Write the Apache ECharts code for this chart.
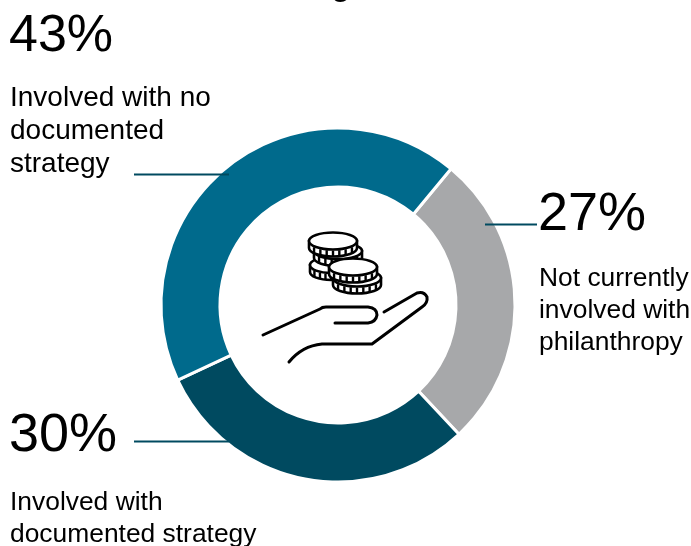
<!DOCTYPE html>
<html>
<head>
<meta charset="utf-8">
<style>html,body{margin:0;padding:0;background:#fff}#chart{width:691px;height:546px}</style>
<script src="https://cdn.jsdelivr.net/npm/echarts@6/dist/echarts.min.js"></script>
</head>
<body>
<div id="chart"></div>
<script>
// Philanthropy involvement shares, clockwise from the upper-right boundary
const categories = ['Not currently\ninvolved with\nphilanthropy', 'Involved with\ndocumented strategy', 'Involved with no\ndocumented\nstrategy'];
const shares = [27, 30, 43];
const sliceColors = ['#a7a8aa', '#004a60', '#006a8c'];
const titleText = 'management';

const chart = echarts.init(document.getElementById('chart'), null, { renderer: 'canvas' });
const FONT = '"Liberation Sans", Arial, sans-serif';
const INK = '#000';

// Closed elliptical outline expressed as a path
const ellipsePath = (cx, cy, rx, ry) =>
  `M${cx - rx} ${cy}A${rx} ${ry} 0 1 1 ${cx + rx} ${cy}A${rx} ${ry} 0 1 1 ${cx - rx} ${cy}Z`;

// Short ticks along the front edge of a coin's band
function coinRidges(cx, cy, rx, ry, h) {
  const out = [];
  for (let i = -3; i <= 3; i++) {
    const x = cx + i * rx / 3.8;
    const y = cy + ry * Math.sqrt(1 - Math.pow((x - cx) / rx, 2));
    out.push({ type: 'line', shape: { x1: x, y1: y + 1, x2: x, y2: y + h }, style: { stroke: INK, lineWidth: 2.4 } });
  }
  return out;
}

// One coin: the band below, ridges, then the top face
function coin(cx, cy, rx, ry) {
  const h = 7;
  const ink = { fill: '#fff', stroke: INK, lineWidth: 2.6 };
  return [
    { type: 'path', shape: { pathData: `M${cx - rx} ${cy}L${cx - rx} ${cy + h}A${rx} ${ry} 0 0 0 ${cx + rx} ${cy + h}L${cx + rx} ${cy}Z` }, style: ink },
    ...coinRidges(cx, cy, rx, ry, h),
    { type: 'path', shape: { pathData: ellipsePath(cx, cy, rx, ry) }, style: ink }
  ];
}

const handPaths = [
  'M263 335L320 309Q322 307 326 307L368 307Q377 308 377 315Q376 322 368 323L335 323',
  'M384 312L417 293Q424 291 427 297Q428 303 422 307L372 344L322 344Q302 346 289 362'
];

const leaders = [
  [134, 174.5, 229, 174.5],
  [485, 224.5, 537, 224.5],
  [134, 441.5, 229, 441.5]
];

const texts = [
  { x: 9, y: 11, big: shares[2], bigSize: 52, body: categories[2], bx: 10, by: 82, size: 28, lh: 33 },
  { x: 538, y: 188, big: shares[0], bigSize: 54, body: categories[0], bx: 539, by: 263, size: 26.4, lh: 32 },
  { x: 9, y: 409, big: shares[1], bigSize: 54, body: categories[1], bx: 10, by: 487, size: 26.4, lh: 32 }
];

const graphic = [
  { type: 'text', style: { x: 346, y: 3, text: titleText, font: 'bold 30px ' + FONT, fill: INK, textAlign: 'center', textVerticalAlign: 'bottom' } },
  ...leaders.map(l => ({ type: 'line', z: 20, shape: { x1: l[0], y1: l[1], x2: l[2], y2: l[3] }, style: { stroke: '#004a60', lineWidth: 1.8 } })),
  ...texts.flatMap(t => [
    { type: 'text', style: { x: t.x, y: t.y, text: t.big + '%', font: t.bigSize + 'px ' + FONT, fill: INK } },
    { type: 'text', style: { x: t.bx, y: t.by, text: t.body, font: t.size + 'px ' + FONT, lineHeight: t.lh, fill: INK } }
  ])
];

// Coins stacked back to front, then the open hand beneath them
function renderIcon() {
  return {
    type: 'group',
    children: [
      ...coin(331, 265, 21, 8),
      ...coin(338, 251, 24, 8),
      ...coin(333, 241, 24, 8.5),
      ...coin(357, 278, 24, 8.5),
      ...coin(353, 267, 24, 8.5),
      ...handPaths.map(d => ({ type: 'path', shape: { pathData: d }, style: { stroke: INK, lineWidth: 3, lineCap: 'round', lineJoin: 'round', fill: null } }))
    ]
  };
}

chart.setOption({
  animation: false,
  series: [{
    type: 'pie',
    center: [338, 305],
    radius: [118, 177],
    startAngle: 50.3,
    clockwise: true,
    silent: true,
    label: { show: false },
    labelLine: { show: false },
    itemStyle: { borderColor: '#fff', borderWidth: 3 },
    data: categories.map((name, i) => ({ name, value: shares[i], itemStyle: { color: sliceColors[i] } }))
  }, {
    type: 'custom',
    coordinateSystem: 'none',
    silent: true,
    data: [[0]],
    renderItem: renderIcon
  }],
  graphic
});
</script>
</body>
</html>
